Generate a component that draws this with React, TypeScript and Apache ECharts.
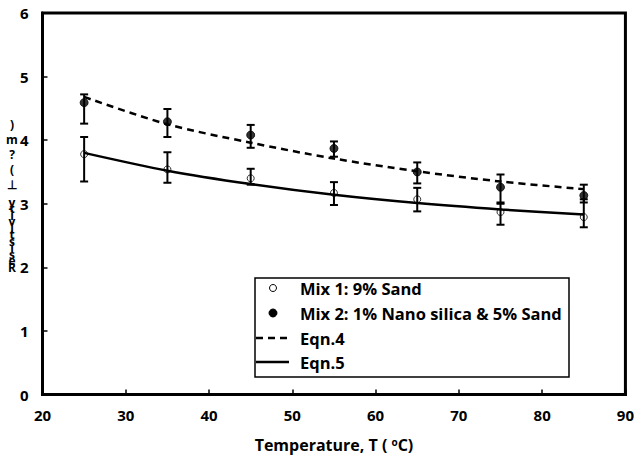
import React, { useEffect, useRef } from "react";
import * as echarts from "echarts";

const temps = [25, 35, 45, 55, 65, 75, 85];
const mix1 = [3.78, 3.54, 3.40, 3.17, 3.07, 2.87, 2.79];
const mix1Low = [3.35, 3.33, 3.30, 2.98, 2.88, 2.67, 2.63];
const mix1High = [4.05, 3.81, 3.55, 3.34, 3.25, 3.00, 3.07];
const mix2 = [4.59, 4.29, 4.08, 3.87, 3.50, 3.26, 3.13];
const mix2Low = [4.26, 4.05, 3.88, 3.74, 3.32, 3.02, 3.02];
const mix2High = [4.72, 4.49, 4.24, 3.98, 3.65, 3.46, 3.30];
const eqn4 = [4.68, 4.25, 3.96, 3.71, 3.51, 3.35, 3.23];
const eqn5 = [3.80, 3.52, 3.31, 3.14, 3.01, 2.91, 2.83];
const legendNames = ["Mix 1: 9% Sand", "Mix 2: 1% Nano silica & 5% Sand", "Eqn.4", "Eqn.5"];
const yLabelBody = ["y", "t", "i", "v", "i", "t", "s", "i", "s", "e", "R"];
const yLabelTail = [")", "m", "?", "(", "⊥"];

const FONT = "'Open Sans', Lato, sans-serif";

function errSeries(low: number[], high: number[]) {
  return {
    type: "custom",
    data: temps.map((t, i) => [t, low[i], high[i]]),
    z: 3,
    renderItem: (params: any, api: any) => {
      const x = api.value(0);
      const lo = api.coord([x, api.value(1)]);
      const hi = api.coord([x, api.value(2)]);
      const hw = 4;
      const st = { stroke: "#000", lineWidth: 2 };
      return {
        type: "group",
        children: [
          { type: "line", shape: { x1: hi[0], y1: hi[1], x2: lo[0], y2: lo[1] }, style: st },
          { type: "line", shape: { x1: hi[0] - hw, y1: hi[1], x2: hi[0] + hw, y2: hi[1] }, style: st },
          { type: "line", shape: { x1: lo[0] - hw, y1: lo[1], x2: lo[0] + hw, y2: lo[1] }, style: st },
        ],
      };
    },
  };
}

export default function App() {
  const ref = useRef<HTMLDivElement>(null);
  useEffect(() => {
    if (!ref.current) return;
    const chart = echarts.init(ref.current, null, { renderer: "svg" });
    const rows = [288, 313, 338, 362];
    chart.setOption({
      animation: false,
      backgroundColor: "#fff",
      grid: { left: 42.5, right: 10, top: 13, bottom: 63, show: true, borderColor: "#000", borderWidth: 3, backgroundColor: "transparent" },
      xAxis: {
        type: "value",
        min: 20,
        max: 90,
        interval: 10,
        name: "Temperature, T ( {sup|o}C)",
        nameLocation: "middle",
        nameGap: 42,
        nameTextStyle: {
          fontFamily: FONT,
          fontWeight: "bold",
          fontSize: 16,
          color: "#000",
          rich: { sup: { fontFamily: FONT, fontWeight: "bold", fontSize: 10, verticalAlign: "top", padding: [0, 0, 7, 0], color: "#000" } },
        },
        axisLine: { lineStyle: { color: "#000", width: 3 } },
        axisTick: { inside: true, length: 5, lineStyle: { color: "#000", width: 1.5 } },
        axisLabel: { fontFamily: FONT, fontWeight: "bold", fontSize: 15, color: "#000", margin: 13 },
        splitLine: { show: false },
      },
      yAxis: {
        type: "value",
        min: 0,
        max: 6,
        interval: 1,
        axisLine: { show: true, lineStyle: { color: "#000", width: 3 } },
        axisTick: { show: true, inside: true, length: 5, lineStyle: { color: "#000", width: 1.5 } },
        axisLabel: { fontFamily: FONT, fontWeight: "bold", fontSize: 15, color: "#000", margin: 14 },
        splitLine: { show: false },
      },
      graphic: [
        {
          type: "text",
          x: 12,
          y: 117,
          z: 100,
          style: { text: yLabelTail.join("\n"), fontFamily: FONT, fontWeight: "bold", fontSize: 12, lineHeight: 15, fill: "#000", align: "center", verticalAlign: "top" },
        },
        {
          type: "text",
          x: 12,
          y: 199,
          z: 100,
          style: { text: yLabelBody.join("\n"), fontFamily: FONT, fontWeight: "bold", fontSize: 12, lineHeight: 6.5, fill: "#000", align: "center", verticalAlign: "top" },
        },
        {
          type: "rect",
          z: 100,
          shape: { x: 255, y: 278, width: 314, height: 99 },
          style: { fill: "#fff", stroke: "#000", lineWidth: 1.5 },
        },
        { type: "circle", z: 101, shape: { cx: 273, cy: rows[0], r: 3.5 }, style: { fill: "#fff", stroke: "#000", lineWidth: 1 } },
        { type: "circle", z: 101, shape: { cx: 273, cy: rows[1], r: 4 }, style: { fill: "#000", stroke: "#000", lineWidth: 1 } },
        { type: "line", z: 101, shape: { x1: 256, y1: rows[2], x2: 289, y2: rows[2] }, style: { stroke: "#000", lineWidth: 2.5, lineDash: [7, 5] } },
        { type: "line", z: 101, shape: { x1: 256, y1: rows[3], x2: 289, y2: rows[3] }, style: { stroke: "#000", lineWidth: 2.5 } },
        ...legendNames.map((n, i) => ({
          type: "text",
          z: 101,
          x: 300,
          y: rows[i],
          style: { text: n, fontFamily: FONT, fontWeight: "bold", fontSize: 16.5, fill: "#000", verticalAlign: "middle" },
        })),
      ],
      series: [
        {
          name: "Eqn.4",
          type: "line",
          data: temps.map((t, i) => [t, eqn4[i]]),
          smooth: 0.3,
          showSymbol: false,
          z: 2,
          lineStyle: { color: "#000", width: 2.5, type: [7, 5] },
        },
        {
          name: "Eqn.5",
          type: "line",
          data: temps.map((t, i) => [t, eqn5[i]]),
          smooth: 0.3,
          showSymbol: false,
          z: 2,
          lineStyle: { color: "#000", width: 2.5 },
        },
        errSeries(mix1Low, mix1High),
        errSeries(mix2Low, mix2High),
        {
          name: legendNames[0],
          type: "scatter",
          data: temps.map((t, i) => [t, mix1[i]]),
          symbol: "circle",
          symbolSize: 7,
          z: 4,
          itemStyle: { color: "transparent", borderColor: "#000", borderWidth: 1 },
        },
        {
          name: legendNames[1],
          type: "scatter",
          data: temps.map((t, i) => [t, mix2[i]]),
          symbol: "circle",
          symbolSize: 8,
          z: 4,
          itemStyle: { color: "#000", borderColor: "#000", borderWidth: 1 },
        },
      ],
    });
    return () => chart.dispose();
  }, []);
  return <div ref={ref} style={{ width: 637, height: 458, position: "absolute", left: 0, top: 0 }} />;
}
